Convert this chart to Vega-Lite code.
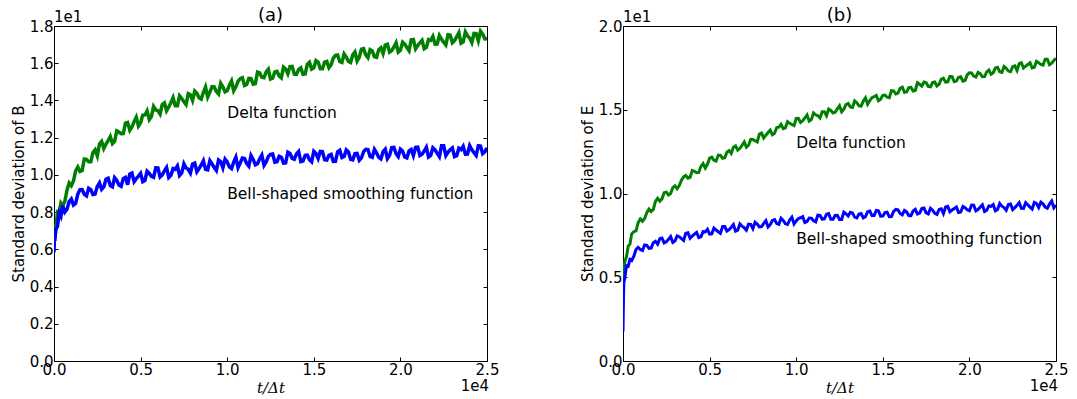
{
"$schema": "https://vega.github.io/schema/vega-lite/v6.json",
"background": "white",
"padding": {"left": 11, "top": 7, "right": 5, "bottom": 1},
"spacing": 81,
"datasets": {
"curves": [
{"t":0,"ag":6.75,"ab":5.85,"bg":3.3,"bb":1.76},
{"t":25,"ag":6.6,"ab":6.58,"bg":5.01,"bb":3.67},
{"t":50,"ag":7.1,"ab":6.45,"bg":5.26,"bb":4.69},
{"t":100,"ag":7.02,"ab":7.08,"bg":5.93,"bb":4.92},
{"t":200,"ag":8.0,"ab":7.22,"bg":6.22,"bb":5.68},
{"t":300,"ag":7.95,"ab":7.97,"bg":6.86,"bb":5.66},
{"t":400,"ag":8.48,"ab":7.78,"bg":6.97,"bb":6.07},
{"t":500,"ag":8.35,"ab":8.35,"bg":7.59,"bb":6.0},
{"t":750,"ag":9.18,"ab":8.15,"bg":7.77,"bb":6.66},
{"t":1000,"ag":9.42,"ab":8.7,"bg":8.48,"bb":6.66},
{"t":1250,"ag":10.22,"ab":8.47,"bg":8.51,"bb":6.93},
{"t":1500,"ag":10.18,"ab":9.2,"bg":9.07,"bb":6.72},
{"t":1750,"ag":10.85,"ab":8.95,"bg":9.05,"bb":7.06},
{"t":2000,"ag":10.7,"ab":9.28,"bg":9.71,"bb":6.97},
{"t":2250,"ag":11.2,"ab":8.95,"bg":9.68,"bb":7.34},
{"t":2500,"ag":11.02,"ab":9.38,"bg":10.08,"bb":7.12},
{"t":2750,"ag":11.8,"ab":9.22,"bg":10.0,"bb":7.43},
{"t":3000,"ag":11.65,"ab":9.77,"bg":10.46,"bb":7.16},
{"t":3250,"ag":12.06,"ab":9.43,"bg":10.47,"bb":7.42},
{"t":3500,"ag":11.8,"ab":9.85,"bg":10.99,"bb":7.2},
{"t":3750,"ag":12.3,"ab":9.45,"bg":10.92,"bb":7.66},
{"t":4000,"ag":12.22,"ab":9.8,"bg":11.38,"bb":7.46},
{"t":4250,"ag":12.82,"ab":9.47,"bg":11.24,"bb":7.68},
{"t":4500,"ag":12.58,"ab":10.1,"bg":11.62,"bb":7.42},
{"t":4750,"ag":13.1,"ab":9.8,"bg":11.52,"bb":7.71},
{"t":5000,"ag":12.8,"ab":10.08,"bg":12.11,"bb":7.57},
{"t":5250,"ag":13.22,"ab":9.7,"bg":11.98,"bb":7.94},
{"t":5500,"ag":12.97,"ab":10.08,"bg":12.28,"bb":7.72},
{"t":5750,"ag":13.68,"ab":9.87,"bg":12.1,"bb":8.03},
{"t":6000,"ag":13.45,"ab":10.37,"bg":12.46,"bb":7.76},
{"t":6250,"ag":13.78,"ab":10.0,"bg":12.39,"bb":7.99},
{"t":6500,"ag":13.45,"ab":10.4,"bg":12.84,"bb":7.75},
{"t":6750,"ag":13.88,"ab":9.98,"bg":12.7,"bb":8.19},
{"t":7000,"ag":13.72,"ab":10.3,"bg":13.08,"bb":7.96},
{"t":7250,"ag":14.25,"ab":9.97,"bg":12.88,"bb":8.17},
{"t":7500,"ag":13.93,"ab":10.6,"bg":13.22,"bb":7.9},
{"t":7750,"ag":14.37,"ab":10.3,"bg":13.08,"bb":8.18},
{"t":8000,"ag":14.0,"ab":10.58,"bg":13.61,"bb":8.02},
{"t":8250,"ag":14.38,"ab":10.17,"bg":13.48,"bb":8.38},
{"t":8500,"ag":14.07,"ab":10.53,"bg":13.78,"bb":8.14},
{"t":8750,"ag":14.72,"ab":10.3,"bg":13.6,"bb":8.44},
{"t":9000,"ag":14.45,"ab":10.77,"bg":13.96,"bb":8.16},
{"t":9250,"ag":14.73,"ab":10.4,"bg":13.87,"bb":8.39},
{"t":9500,"ag":14.35,"ab":10.8,"bg":14.29,"bb":8.15},
{"t":9750,"ag":14.73,"ab":10.38,"bg":14.12,"bb":8.59},
{"t":10000,"ag":14.52,"ab":10.7,"bg":14.48,"bb":8.36},
{"t":10250,"ag":15.05,"ab":10.34,"bg":14.24,"bb":8.55},
{"t":10500,"ag":14.73,"ab":10.95,"bg":14.52,"bb":8.27},
{"t":10750,"ag":15.17,"ab":10.63,"bg":14.32,"bb":8.54},
{"t":11000,"ag":14.8,"ab":10.88,"bg":14.81,"bb":8.37},
{"t":11250,"ag":15.18,"ab":10.47,"bg":14.64,"bb":8.71},
{"t":11500,"ag":14.87,"ab":10.83,"bg":14.88,"bb":8.47},
{"t":11750,"ag":15.52,"ab":10.6,"bg":14.64,"bb":8.76},
{"t":12000,"ag":15.25,"ab":11.07,"bg":14.96,"bb":8.46},
{"t":12250,"ag":15.53,"ab":10.7,"bg":14.85,"bb":8.69},
{"t":12500,"ag":15.15,"ab":11.1,"bg":15.24,"bb":8.45},
{"t":12750,"ag":15.53,"ab":10.68,"bg":15.04,"bb":8.89},
{"t":13000,"ag":15.32,"ab":11.0,"bg":15.38,"bb":8.66},
{"t":13250,"ag":15.79,"ab":10.63,"bg":15.14,"bb":8.84},
{"t":13500,"ag":15.43,"ab":11.22,"bg":15.42,"bb":8.54},
{"t":13750,"ag":15.83,"ab":10.89,"bg":15.22,"bb":8.8},
{"t":14000,"ag":15.4,"ab":11.13,"bg":15.71,"bb":8.62},
{"t":14250,"ag":15.75,"ab":10.71,"bg":15.54,"bb":8.95},
{"t":14500,"ag":15.42,"ab":11.05,"bg":15.78,"bb":8.69},
{"t":14750,"ag":16.05,"ab":10.81,"bg":15.54,"bb":8.97},
{"t":15000,"ag":15.75,"ab":11.27,"bg":15.86,"bb":8.66},
{"t":15250,"ag":16.06,"ab":10.88,"bg":15.75,"bb":8.88},
{"t":15500,"ag":15.7,"ab":11.25,"bg":16.14,"bb":8.62},
{"t":15750,"ag":16.1,"ab":10.8,"bg":15.94,"bb":9.05},
{"t":16000,"ag":15.92,"ab":11.1,"bg":16.28,"bb":8.81},
{"t":16250,"ag":16.42,"ab":10.73,"bg":16.04,"bb":8.99},
{"t":16500,"ag":16.08,"ab":11.32,"bg":16.32,"bb":8.69},
{"t":16750,"ag":16.5,"ab":10.99,"bg":16.12,"bb":8.95},
{"t":17000,"ag":16.1,"ab":11.23,"bg":16.61,"bb":8.77},
{"t":17250,"ag":16.45,"ab":10.81,"bg":16.41,"bb":9.1},
{"t":17500,"ag":16.12,"ab":11.15,"bg":16.63,"bb":8.84},
{"t":17750,"ag":16.75,"ab":10.91,"bg":16.37,"bb":9.12},
{"t":18000,"ag":16.45,"ab":11.37,"bg":16.66,"bb":8.81},
{"t":18250,"ag":16.73,"ab":10.99,"bg":16.52,"bb":9.05},
{"t":18500,"ag":16.35,"ab":11.37,"bg":16.89,"bb":8.8},
{"t":18750,"ag":16.73,"ab":10.94,"bg":16.67,"bb":9.23},
{"t":19000,"ag":16.52,"ab":11.25,"bg":16.98,"bb":9.01},
{"t":19250,"ag":17.02,"ab":10.88,"bg":16.71,"bb":9.19},
{"t":19500,"ag":16.68,"ab":11.47,"bg":16.97,"bb":8.89},
{"t":19750,"ag":17.1,"ab":11.14,"bg":16.75,"bb":9.15},
{"t":20000,"ag":16.7,"ab":11.38,"bg":17.21,"bb":8.97},
{"t":20250,"ag":17.02,"ab":10.96,"bg":17.01,"bb":9.3},
{"t":20500,"ag":16.67,"ab":11.29,"bg":17.23,"bb":9.04},
{"t":20750,"ag":17.28,"ab":11.04,"bg":16.97,"bb":9.32},
{"t":21000,"ag":16.95,"ab":11.49,"bg":17.26,"bb":9.01},
{"t":21250,"ag":17.23,"ab":11.11,"bg":17.12,"bb":9.23},
{"t":21500,"ag":16.85,"ab":11.48,"bg":17.49,"bb":8.97},
{"t":21750,"ag":17.23,"ab":11.04,"bg":17.27,"bb":9.4},
{"t":22000,"ag":17.02,"ab":11.35,"bg":17.58,"bb":9.16},
{"t":22250,"ag":17.49,"ab":10.98,"bg":17.31,"bb":9.34},
{"t":22500,"ag":17.13,"ab":11.56,"bg":17.57,"bb":9.04},
{"t":22750,"ag":17.53,"ab":11.22,"bg":17.35,"bb":9.3},
{"t":23000,"ag":17.1,"ab":11.45,"bg":17.81,"bb":9.12},
{"t":23250,"ag":17.42,"ab":11.03,"bg":17.6,"bb":9.45},
{"t":23500,"ag":17.07,"ab":11.36,"bg":17.81,"bb":9.19},
{"t":23750,"ag":17.68,"ab":11.11,"bg":17.54,"bb":9.47},
{"t":24000,"ag":17.35,"ab":11.57,"bg":17.81,"bb":9.16},
{"t":24250,"ag":17.6,"ab":11.19,"bg":17.66,"bb":9.38},
{"t":24500,"ag":17.2,"ab":11.57,"bg":18.01,"bb":9.12},
{"t":24750,"ag":17.56,"ab":11.14,"bg":17.78,"bb":9.55},
{"t":25000,"ag":17.32,"ab":11.45,"bg":18.08,"bb":9.31},
{"t":625,"ag":8.57,"ab":8.0,"bg":7.72,"bb":6.25},
{"t":875,"ag":9.57,"ab":8.56,"bg":8.26,"bb":6.79},
{"t":1125,"ag":9.68,"ab":8.38,"bg":8.35,"bb":6.6},
{"t":1375,"ag":10.42,"ab":8.97,"bg":8.86,"bb":6.91},
{"t":1625,"ag":10.23,"ab":9.21,"bg":8.92,"bb":6.74},
{"t":1875,"ag":10.83,"ab":8.87,"bg":9.53,"bb":7.15},
{"t":2125,"ag":10.7,"ab":9.2,"bg":9.54,"bb":7.3},
{"t":2375,"ag":11.35,"ab":8.97,"bg":10.05,"bb":7.05},
{"t":2625,"ag":11.66,"ab":9.57,"bg":9.91,"bb":7.26},
{"t":2875,"ag":11.42,"ab":9.35,"bg":10.35,"bb":7.08},
{"t":3125,"ag":11.84,"ab":9.82,"bg":10.29,"bb":7.47},
{"t":3375,"ag":11.68,"ab":9.36,"bg":10.8,"bb":7.31},
{"t":3625,"ag":12.36,"ab":9.7,"bg":11.08,"bb":7.63},
{"t":3875,"ag":12.21,"ab":9.38,"bg":10.97,"bb":7.33},
{"t":4125,"ag":12.78,"ab":9.87,"bg":11.33,"bb":7.58},
{"t":4375,"ag":12.4,"ab":10.04,"bg":11.26,"bb":7.37},
{"t":4625,"ag":12.86,"ab":9.64,"bg":11.79,"bb":7.72},
{"t":4875,"ag":12.62,"ab":9.93,"bg":11.74,"bb":7.86},
{"t":5125,"ag":13.21,"ab":9.64,"bg":12.17,"bb":7.59},
{"t":5375,"ag":13.44,"ab":10.2,"bg":11.93,"bb":7.82},
{"t":5625,"ag":13.14,"ab":9.92,"bg":12.28,"bb":7.62},
{"t":5875,"ag":13.49,"ab":10.38,"bg":12.13,"bb":8.03},
{"t":6125,"ag":13.27,"ab":9.89,"bg":12.56,"bb":7.84},
{"t":6375,"ag":13.87,"ab":10.22,"bg":12.76,"bb":8.15},
{"t":6625,"ag":13.65,"ab":9.86,"bg":12.59,"bb":7.81},
{"t":6875,"ag":14.15,"ab":10.34,"bg":12.88,"bb":8.05},
{"t":7125,"ag":13.72,"ab":10.48,"bg":12.76,"bb":7.81},
{"t":7375,"ag":14.1,"ab":10.1,"bg":13.23,"bb":8.16},
{"t":7625,"ag":13.78,"ab":10.37,"bg":13.15,"bb":8.28},
{"t":7875,"ag":14.31,"ab":10.1,"bg":13.55,"bb":8.01},
{"t":8125,"ag":14.5,"ab":10.63,"bg":13.31,"bb":8.21},
{"t":8375,"ag":14.14,"ab":10.34,"bg":13.64,"bb":8.0},
{"t":8625,"ag":14.43,"ab":10.76,"bg":13.51,"bb":8.39},
{"t":8875,"ag":14.18,"ab":10.27,"bg":13.94,"bb":8.21},
{"t":9125,"ag":14.74,"ab":10.59,"bg":14.13,"bb":8.52},
{"t":9375,"ag":14.48,"ab":10.24,"bg":13.92,"bb":8.19},
{"t":9625,"ag":14.92,"ab":10.71,"bg":14.19,"bb":8.42},
{"t":9875,"ag":14.46,"ab":10.85,"bg":14.05,"bb":8.18},
{"t":10125,"ag":14.82,"ab":10.43,"bg":14.49,"bb":8.51},
{"t":10375,"ag":14.52,"ab":10.69,"bg":14.35,"bb":8.62},
{"t":10625,"ag":15.03,"ab":10.38,"bg":14.69,"bb":8.33},
{"t":10875,"ag":15.22,"ab":10.91,"bg":14.41,"bb":8.53},
{"t":11125,"ag":14.86,"ab":10.61,"bg":14.7,"bb":8.31},
{"t":11375,"ag":15.17,"ab":11.04,"bg":14.51,"bb":8.69},
{"t":11625,"ag":14.9,"ab":10.54,"bg":14.88,"bb":8.49},
{"t":11875,"ag":15.48,"ab":10.87,"bg":15.04,"bb":8.8},
{"t":12125,"ag":15.22,"ab":10.51,"bg":14.81,"bb":8.46},
{"t":12375,"ag":15.68,"ab":10.99,"bg":15.06,"bb":8.7},
{"t":12625,"ag":15.2,"ab":11.12,"bg":14.88,"bb":8.45},
{"t":12875,"ag":15.56,"ab":10.71,"bg":15.31,"bb":8.79},
{"t":13125,"ag":15.21,"ab":10.95,"bg":15.17,"bb":8.88},
{"t":13375,"ag":15.69,"ab":10.64,"bg":15.53,"bb":8.59},
{"t":13625,"ag":15.82,"ab":11.15,"bg":15.23,"bb":8.77},
{"t":13875,"ag":15.41,"ab":10.84,"bg":15.52,"bb":8.54},
{"t":14125,"ag":15.67,"ab":11.26,"bg":15.33,"bb":8.91},
{"t":14375,"ag":15.4,"ab":10.74,"bg":15.72,"bb":8.69},
{"t":14625,"ag":15.94,"ab":11.06,"bg":15.86,"bb":8.99},
{"t":14875,"ag":15.68,"ab":10.7,"bg":15.63,"bb":8.65},
{"t":15125,"ag":16.14,"ab":11.15,"bg":15.88,"bb":8.86},
{"t":15375,"ag":15.7,"ab":11.26,"bg":15.72,"bb":8.61},
{"t":15625,"ag":16.06,"ab":10.82,"bg":16.13,"bb":8.93},
{"t":15875,"ag":15.76,"ab":11.05,"bg":15.99,"bb":9.02},
{"t":16125,"ag":16.27,"ab":10.72,"bg":16.35,"bb":8.73},
{"t":16375,"ag":16.44,"ab":11.24,"bg":16.07,"bb":8.9},
{"t":16625,"ag":16.04,"ab":10.93,"bg":16.34,"bb":8.68},
{"t":16875,"ag":16.33,"ab":11.34,"bg":16.15,"bb":9.05},
{"t":17125,"ag":16.04,"ab":10.84,"bg":16.52,"bb":8.83},
{"t":17375,"ag":16.6,"ab":11.14,"bg":16.66,"bb":9.13},
{"t":17625,"ag":16.32,"ab":10.78,"bg":16.39,"bb":8.78},
{"t":17875,"ag":16.78,"ab":11.25,"bg":16.62,"bb":9.0},
{"t":18125,"ag":16.3,"ab":11.36,"bg":16.42,"bb":8.75},
{"t":18375,"ag":16.66,"ab":10.94,"bg":16.83,"bb":9.09},
{"t":18625,"ag":16.32,"ab":11.18,"bg":16.65,"bb":9.19},
{"t":18875,"ag":16.83,"ab":10.86,"bg":16.99,"bb":8.91},
{"t":19125,"ag":16.98,"ab":11.38,"bg":16.67,"bb":9.1},
{"t":19375,"ag":16.6,"ab":11.06,"bg":16.94,"bb":8.86},
{"t":19625,"ag":16.87,"ab":11.48,"bg":16.71,"bb":9.23},
{"t":19875,"ag":16.6,"ab":10.98,"bg":17.08,"bb":9.03},
{"t":20125,"ag":17.13,"ab":11.28,"bg":17.2,"bb":9.31},
{"t":20375,"ag":16.84,"ab":10.91,"bg":16.95,"bb":8.97},
{"t":20625,"ag":17.26,"ab":11.37,"bg":17.16,"bb":9.19},
{"t":20875,"ag":16.77,"ab":11.48,"bg":16.98,"bb":8.93},
{"t":21125,"ag":17.1,"ab":11.04,"bg":17.37,"bb":9.26},
{"t":21375,"ag":16.78,"ab":11.28,"bg":17.21,"bb":9.34},
{"t":21625,"ag":17.27,"ab":10.96,"bg":17.53,"bb":9.05},
{"t":21875,"ag":17.44,"ab":11.46,"bg":17.23,"bb":9.24},
{"t":22125,"ag":17.03,"ab":11.16,"bg":17.48,"bb":9.0},
{"t":22375,"ag":17.29,"ab":11.56,"bg":17.27,"bb":9.37},
{"t":22625,"ag":16.98,"ab":11.04,"bg":17.62,"bb":9.16},
{"t":22875,"ag":17.51,"ab":11.35,"bg":17.76,"bb":9.45},
{"t":23125,"ag":17.21,"ab":10.98,"bg":17.49,"bb":9.11},
{"t":23375,"ag":17.64,"ab":11.43,"bg":17.7,"bb":9.32},
{"t":23625,"ag":17.14,"ab":11.54,"bg":17.5,"bb":9.07},
{"t":23875,"ag":17.47,"ab":11.12,"bg":17.89,"bb":9.4},
{"t":24125,"ag":17.11,"ab":11.35,"bg":17.7,"bb":9.48},
{"t":24375,"ag":17.59,"ab":11.04,"bg":18.01,"bb":9.19},
{"t":24625,"ag":17.72,"ab":11.55,"bg":17.69,"bb":9.37},
{"t":24875,"ag":17.31,"ab":11.24,"bg":17.94,"bb":9.14}
]
},
"hconcat": [
{
"width": 433, "height": 335,
"title": {"text": "(a)", "frame": "group", "font": "DejaVu Sans", "fontSize": 18, "fontWeight": "normal", "color": "black", "offset": -15},
"resolve": {"axis": {"x": "independent", "y": "independent"}},
"layer": [
{"data": {"name": "curves"},
"mark": {"type": "line", "color": "#008000", "strokeWidth": 3.5, "clip": true},
"encoding": {
"x": {"field": "t", "type": "quantitative", "title": "t/Δt", "scale": {"domain": [0, 25000], "nice": false, "zero": false},
"axis": {"orient": "bottom", "values": [0, 5000, 10000, 15000, 20000, 25000], "labelExpr": "format(datum.value/10000, '.1f')", "titleFont": "DejaVu Serif", "titleFontStyle": "italic"}},
"y": {"field": "ag", "type": "quantitative", "title": "Standard deviation of B", "scale": {"domain": [0, 18], "nice": false, "zero": false},
"axis": {"orient": "left", "values": [0, 2, 4, 6, 8, 10, 12, 14, 16, 18], "labelExpr": "format(datum.value/10, '.1f')"}}
}},
{"data": {"name": "curves"},
"mark": {"type": "line", "color": "#0000ff", "strokeWidth": 3.5, "clip": true},
"encoding": {
"x": {"field": "t", "type": "quantitative", "scale": {"domain": [0, 25000], "nice": false, "zero": false}, "axis": null},
"y": {"field": "ab", "type": "quantitative", "scale": {"domain": [0, 18], "nice": false, "zero": false}, "axis": null}
}},
{"data": {"values": [{"x": 10000, "y": 13.3, "label": "Delta function"}, {"x": 10000, "y": 9.0, "label": "Bell-shaped smoothing function"}]},
"mark": {"type": "text", "align": "left", "baseline": "middle", "font": "DejaVu Sans", "fontSize": 15.5, "color": "black"},
"encoding": {
"x": {"field": "x", "type": "quantitative", "scale": {"domain": [0, 25000], "nice": false, "zero": false},
"axis": {"orient": "top", "labels": false, "title": null, "values": [0, 5000, 10000, 15000, 20000, 25000]}},
"y": {"field": "y", "type": "quantitative", "scale": {"domain": [0, 18], "nice": false, "zero": false},
"axis": {"orient": "right", "labels": false, "title": null, "values": [0, 2, 4, 6, 8, 10, 12, 14, 16, 18]}},
"text": {"field": "label"}
}},
{"data": {"values": [{"x": 0, "y": 18, "label": "1e1"}]},
"mark": {"type": "text", "align": "left", "baseline": "bottom", "dy": -1, "font": "DejaVu Sans", "fontSize": 15, "color": "black"},
"encoding": {
"x": {"field": "x", "type": "quantitative", "scale": {"domain": [0, 25000], "nice": false, "zero": false}, "axis": null},
"y": {"field": "y", "type": "quantitative", "scale": {"domain": [0, 18], "nice": false, "zero": false}, "axis": null},
"text": {"field": "label"}
}},
{"data": {"values": [{"x": 25000, "y": 0, "label": "1e4"}]},
"mark": {"type": "text", "align": "right", "baseline": "top", "dy": 18, "dx": 2, "font": "DejaVu Sans", "fontSize": 15, "color": "black"},
"encoding": {
"x": {"field": "x", "type": "quantitative", "scale": {"domain": [0, 25000], "nice": false, "zero": false}, "axis": null},
"y": {"field": "y", "type": "quantitative", "scale": {"domain": [0, 18], "nice": false, "zero": false}, "axis": null},
"text": {"field": "label"}
}}
]
},
{
"width": 433, "height": 335,
"title": {"text": "(b)", "frame": "group", "font": "DejaVu Sans", "fontSize": 18, "fontWeight": "normal", "color": "black", "offset": -15},
"resolve": {"axis": {"x": "independent", "y": "independent"}},
"layer": [
{"data": {"name": "curves"},
"mark": {"type": "line", "color": "#008000", "strokeWidth": 3, "clip": true},
"encoding": {
"x": {"field": "t", "type": "quantitative", "title": "t/Δt", "scale": {"domain": [0, 25000], "nice": false, "zero": false},
"axis": {"orient": "bottom", "values": [0, 5000, 10000, 15000, 20000, 25000], "labelExpr": "format(datum.value/10000, '.1f')", "titleFont": "DejaVu Serif", "titleFontStyle": "italic"}},
"y": {"field": "bg", "type": "quantitative", "title": "Standard deviation of E", "scale": {"domain": [0, 20], "nice": false, "zero": false},
"axis": {"orient": "left", "values": [0, 5, 10, 15, 20], "labelExpr": "format(datum.value/10, '.1f')"}}
}},
{"data": {"name": "curves"},
"mark": {"type": "line", "color": "#0000ff", "strokeWidth": 3, "clip": true},
"encoding": {
"x": {"field": "t", "type": "quantitative", "scale": {"domain": [0, 25000], "nice": false, "zero": false}, "axis": null},
"y": {"field": "bb", "type": "quantitative", "scale": {"domain": [0, 20], "nice": false, "zero": false}, "axis": null}
}},
{"data": {"values": [{"x": 10000, "y": 13.0, "label": "Delta function"}, {"x": 10000, "y": 7.3, "label": "Bell-shaped smoothing function"}]},
"mark": {"type": "text", "align": "left", "baseline": "middle", "font": "DejaVu Sans", "fontSize": 15.5, "color": "black"},
"encoding": {
"x": {"field": "x", "type": "quantitative", "scale": {"domain": [0, 25000], "nice": false, "zero": false},
"axis": {"orient": "top", "labels": false, "title": null, "values": [0, 5000, 10000, 15000, 20000, 25000]}},
"y": {"field": "y", "type": "quantitative", "scale": {"domain": [0, 20], "nice": false, "zero": false},
"axis": {"orient": "right", "labels": false, "title": null, "values": [0, 5, 10, 15, 20]}},
"text": {"field": "label"}
}},
{"data": {"values": [{"x": 0, "y": 20, "label": "1e1"}]},
"mark": {"type": "text", "align": "left", "baseline": "bottom", "dy": -1, "font": "DejaVu Sans", "fontSize": 15, "color": "black"},
"encoding": {
"x": {"field": "x", "type": "quantitative", "scale": {"domain": [0, 25000], "nice": false, "zero": false}, "axis": null},
"y": {"field": "y", "type": "quantitative", "scale": {"domain": [0, 20], "nice": false, "zero": false}, "axis": null},
"text": {"field": "label"}
}},
{"data": {"values": [{"x": 25000, "y": 0, "label": "1e4"}]},
"mark": {"type": "text", "align": "right", "baseline": "top", "dy": 18, "dx": 2, "font": "DejaVu Sans", "fontSize": 15, "color": "black"},
"encoding": {
"x": {"field": "x", "type": "quantitative", "scale": {"domain": [0, 25000], "nice": false, "zero": false}, "axis": null},
"y": {"field": "y", "type": "quantitative", "scale": {"domain": [0, 20], "nice": false, "zero": false}, "axis": null},
"text": {"field": "label"}
}}
]
}
],
"config": {
"view": {"stroke": null},
"axis": {"grid": false, "domainColor": "black", "domainWidth": 1, "tickColor": "black", "tickWidth": 1, "tickSize": -4, "labelPadding": 5, "labelColor": "black", "labelFont": "DejaVu Sans", "labelFontSize": 15, "labelFlush": false, "labelOverlap": false, "titleColor": "black", "titleFont": "DejaVu Sans", "titleFontSize": 15, "titleFontWeight": "normal", "titlePadding": 3}
}
}
